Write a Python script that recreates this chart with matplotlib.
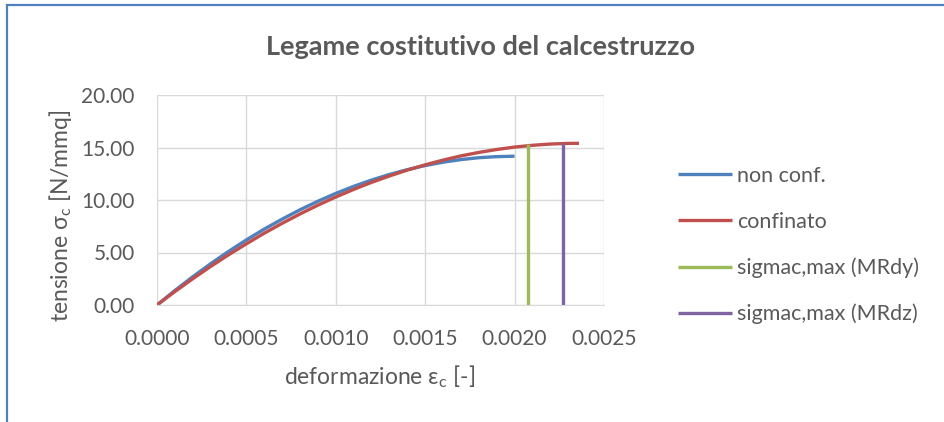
import matplotlib

matplotlib.use("Agg")
import matplotlib.pyplot as plt
from matplotlib.patches import Rectangle

# strain [-] and stress [N/mmq]
eps_nc = [0.0, 0.0001, 0.0002, 0.0003, 0.0004, 0.0005, 0.0006, 0.0007, 0.0008, 0.0009, 0.0010,
          0.0011, 0.0012, 0.0013, 0.0014, 0.0015, 0.0016, 0.0017, 0.0018, 0.0019, 0.0020]
sig_nc = [0.0, 1.38, 2.69, 3.93, 5.10, 6.20, 7.23, 8.18, 9.07, 9.88, 10.63,
          11.30, 11.90, 12.43, 12.89, 13.28, 13.60, 13.85, 14.03, 14.13, 14.17]

eps_conf = [0.0, 0.0001, 0.0002, 0.0003, 0.0004, 0.0005, 0.0006, 0.0007, 0.0008, 0.0009, 0.0010,
            0.0011, 0.0012, 0.0013, 0.0014, 0.0015, 0.0016, 0.0017, 0.0018, 0.0019, 0.0020,
            0.0021, 0.0022, 0.0023, 0.00236]
sig_conf = [0.0, 1.28, 2.50, 3.67, 4.78, 5.83, 6.84, 7.78, 8.67, 9.51, 10.29,
            11.01, 11.68, 12.29, 12.85, 13.35, 13.80, 14.20, 14.53, 14.81, 15.04,
            15.21, 15.33, 15.39, 15.40]

eps_mrdy = [0.002077, 0.002077]
sig_mrdy = [0.0, 15.30]
eps_mrdz = [0.00227, 0.00227]
sig_mrdz = [0.0, 15.45]

labels = ["non conf.", "confinato", "sigmac,max (MRdy)", "sigmac,max (MRdz)"]
colors = ["#4f81bd", "#c0504d", "#9bbb59", "#8064a2"]

xticks = [0.0, 0.0005, 0.0010, 0.0015, 0.0020, 0.0025]
yticks = [0.0, 5.0, 10.0, 15.0, 20.0]

plt.rcParams["font.family"] = ["Lato", "DejaVu Sans"]
TXT = "#595959"
W, H = 944, 422

fig = plt.figure(figsize=(W / 100, H / 100), dpi=100)
fig.patches.append(Rectangle((7 / W, -0.1), 1.2, (H - 5) / H + 0.1,
                             transform=fig.transFigure, fill=False,
                             edgecolor="#4f81bd", lw=1.6))

ax = fig.add_axes([157 / W, 1 - 305 / H, (604 - 157) / W, (305 - 95) / H])
series = [(eps_nc, sig_nc), (eps_conf, sig_conf), (eps_mrdy, sig_mrdy), (eps_mrdz, sig_mrdz)]
for (x, y), lab, c in zip(series, labels, colors):
    ax.plot(x, y, color=c, lw=2.4, label=lab, solid_capstyle="butt")

ax.set_xlim(0, 0.0025)
ax.set_ylim(0, 20)
ax.set_xticks(xticks)
ax.set_yticks(yticks)
ax.set_xticklabels([f"{v:.4f}" for v in xticks])
ax.set_yticklabels([f"{v:.2f}" for v in yticks])
ax.grid(True, color="#d9d9d9", lw=1)
ax.set_axisbelow(True)
for s in ["top", "right", "left"]:
    ax.spines[s].set_visible(False)
ax.spines["bottom"].set_color("#d9d9d9")
ax.tick_params(axis="x", length=0, labelsize=15, colors=TXT, pad=17)
ax.tick_params(axis="y", length=0, labelsize=15, colors=TXT, pad=16)

fig.text(380 / W, 1 - 377 / H, "deformazione ε$_\\mathregular{c}$ [-]",
         ha="center", va="center", fontsize=16.5, color=TXT)
fig.text(60 / W, 1 - 216 / H, "tensione σ$_\\mathregular{c}$ [N/mmq]",
         ha="center", va="center", rotation=90, fontsize=16.5, color=TXT)
fig.text(480 / W, 1 - 47 / H, "Legame costitutivo del calcestruzzo",
         ha="center", va="center", fontsize=19.5, fontweight="bold", color=TXT)

leg = ax.legend(loc="center left", bbox_to_anchor=(1.122, 0.285), frameon=False,
                fontsize=15.5, handlelength=2.5, handletextpad=0.23, labelspacing=1.2)
for t in leg.get_texts():
    t.set_color(TXT)

fig.savefig("out.png", dpi=100)
